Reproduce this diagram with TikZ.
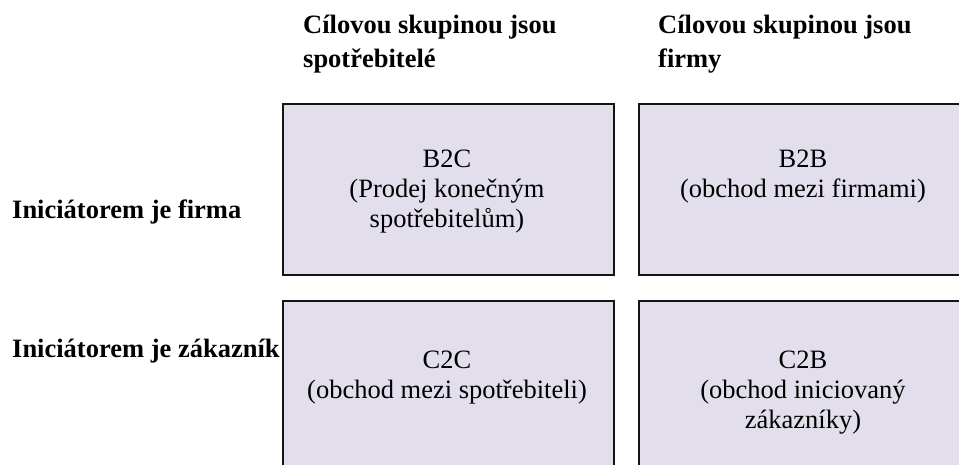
\documentclass[tikz,border=0pt]{standalone}
\usepackage{fontspec}
\setmainfont{Liberation Serif}
\definecolor{cellfill}{RGB}{227,222,235}
\definecolor{cellline}{RGB}{20,20,20}
\tikzset{
  cell/.style={draw=cellline, line width=1.6pt, fill=cellfill, rectangle,
    inner sep=0pt, anchor=north west},
  % anchor=base sits on the baseline of the last line
  celltext/.style={align=center, inner sep=0pt, anchor=base,
    font=\fontsize{26.5}{30}\selectfont},
  header/.style={align=left, inner sep=0pt, anchor=base west,
    font=\fontsize{26.5}{34}\selectfont\bfseries},
  rowlabel/.style={inner sep=0pt, anchor=base west,
    font=\fontsize{26.5}{30}\selectfont\bfseries},
}
\begin{document}
\begin{tikzpicture}[x=1pt, y=-1pt]
  \useasboundingbox (0,0) rectangle (959,465);
  \clip (0,0) rectangle (959,465);

  % column headers
  \node[header] (h1) at (303,68) {Cílovou skupinou jsou\\spotřebitelé};
  \node[header] (h2) at (658,68) {Cílovou skupinou jsou\\firmy};

  % row labels
  \node[rowlabel] (r1) at (12,219) {Iniciátorem je firma};
  \node[rowlabel] (r2) at (12,357) {Iniciátorem je zákazník};

  % the four cells
  \node[cell, minimum width=331pt, minimum height=171pt] (b2c) at (282,103) {};
  \node[cell, minimum width=340pt, minimum height=171pt] (b2b) at (638,103) {};
  \node[cell, minimum width=331pt, minimum height=190pt] (c2c) at (282,300) {};
  \node[cell, minimum width=340pt, minimum height=190pt] (c2b) at (638,300) {};

  % cell texts
  \node[celltext] (t1) at (447,228) {B2C\\(Prodej konečným\\spotřebitelům)};
  \node[celltext] (t2) at (803,198) {B2B\\(obchod mezi firmami)};
  \node[celltext] (t3) at (447,398) {C2C\\(obchod mezi spotřebiteli)};
  \node[celltext] (t4) at (803,428) {C2B\\(obchod iniciovaný\\zákazníky)};
\end{tikzpicture}
\end{document}
